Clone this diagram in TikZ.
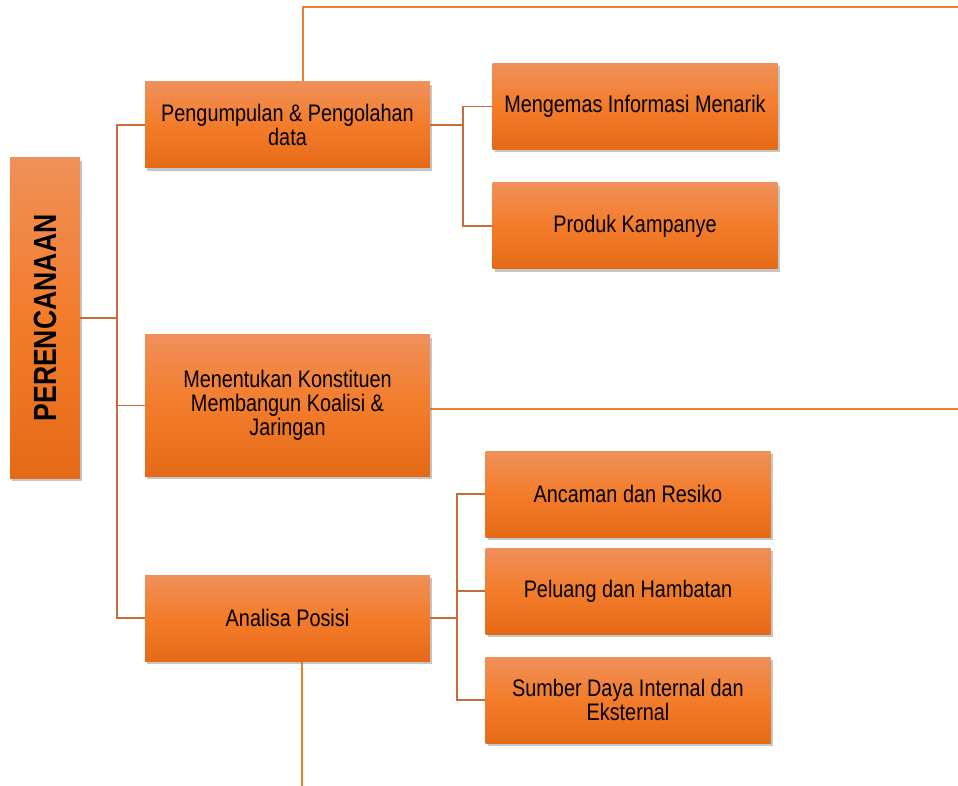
\documentclass[tikz,border=0pt]{standalone}
\usepackage{fontspec}
\setmainfont[FakeStretch=0.83]{Liberation Sans}
\usetikzlibrary{shadows,backgrounds}

\definecolor{boxtop}{RGB}{240,144,90}
\definecolor{boxmid}{RGB}{243,124,42}
\definecolor{boxbot}{RGB}{229,106,24}
\definecolor{treeline}{RGB}{198,108,58}
\definecolor{longline}{RGB}{237,125,49}

\tikzset{
  box/.style={rectangle, inner sep=2pt, align=center, text=black,
    top color=boxtop, bottom color=boxbot, middle color=boxmid,
    font=\fontsize{17}{17}\selectfont,
    drop shadow={shadow xshift=1.5pt, shadow yshift=-2pt, opacity=0.45}},
  wide/.style={box, minimum width=285*0.025cm, minimum height=86*0.025cm},
  tree/.style={draw=treeline, line width=1.4pt},
  long/.style={draw=longline, line width=1.4pt}
}

\begin{document}
\begin{tikzpicture}[x=0.025cm, y=-0.025cm]
  %%%%% START %%%%%
  \useasboundingbox (0,0) rectangle (958,786);

  \node[box, minimum width=70*0.025cm, minimum height=320*0.025cm,
    label={[rotate=90, font=\fontsize{22.8}{24}\selectfont\bfseries]center:PERENCANAAN}]
    (plan) at (45,318) {};

  \node[wide] (kumpul) at (287.5,125) {Pengumpulan \& Pengolahan\\data};
  \node[wide, minimum height=141*0.025cm] (konstituen) at (287.5,405.5)
    {Menentukan Konstituen\\Membangun Koalisi \&\\Jaringan};
  \node[wide] (analisa) at (287.5,618) {Analisa Posisi};

  \node[wide] (kemas) at (635,106.5) {Mengemas Informasi Menarik};
  \node[wide] (produk) at (635,226) {Produk Kampanye};

  \node[wide] (ancaman) at (628,494) {Ancaman dan Resiko};
  \node[wide] (peluang) at (628,591) {Peluang dan Hambatan};
  \node[wide] (sumber) at (628,700) {Sumber Daya Internal dan\\Eksternal};

  \coordinate (busA) at (117,318);
  \coordinate (busB) at (463,125);
  \coordinate (busC) at (457,618);
  \coordinate (topL) at (303,7);
  \coordinate (topR) at (958,7);
  \coordinate (midR) at (958,409);
  \coordinate (botEnd) at (302,786);

  \begin{scope}[on background layer]
    % main branch
    \draw[tree] (plan.east) -- (busA);
    \draw[tree] (kumpul.west) -| (busA);
    \draw[tree] (analisa.west) -| (busA);
    \draw[tree] (konstituen.west) -- (konstituen.west -| busA);

    % data branch
    \draw[tree] (kumpul.east) -- (busB);
    \draw[tree] (kemas.west) -| (busB);
    \draw[tree] (produk.west) -| (busB);

    % posisi branch
    \draw[tree] (analisa.east) -- (busC);
    \draw[tree] (ancaman.west) -| (busC);
    \draw[tree] (sumber.west) -| (busC);
    \draw[tree] (peluang.west) -- (peluang.west -| busC);

    % long lines
    \draw[long] (kumpul.north -| topL) -- (topL) -- (topR);
    \draw[long] (konstituen.east |- midR) -- (midR);
    \draw[long] (analisa.south -| botEnd) -- (botEnd);
  \end{scope}
  %%%%% END %%%%%
\end{tikzpicture}
\end{document}
